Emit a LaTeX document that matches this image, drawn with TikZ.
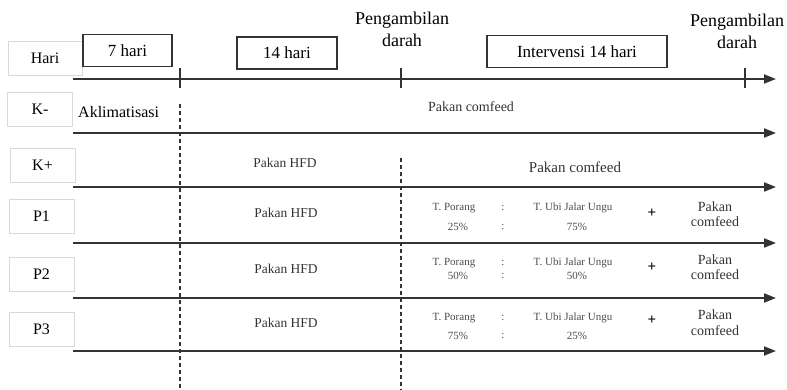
\documentclass[tikz,border=0pt]{standalone}
\usepackage{fontspec}
\setmainfont{Liberation Serif}
\usetikzlibrary{arrows.meta}
\begin{document}
\begin{tikzpicture}[x=1pt,y=-1pt,
  lbl/.style={draw=black!15, line width=0.8pt, minimum width=65pt, minimum height=34pt, font=\fontsize{16}{18}\selectfont, inner sep=0pt},
  topbox/.style={draw=black!80, line width=1.2pt, font=\fontsize{17}{19}\selectfont, inner sep=0pt, minimum height=32pt},
  tl/.style={draw=black!80, line width=2pt, -{Triangle[length=12pt,width=9pt]}},
  tickmark/.style={draw=black!80, line width=1.5pt},
  vdash/.style={draw=black!80, line width=2pt, dash pattern=on 4pt off 3pt},
  feed/.style={font=\fontsize{14}{16}\selectfont, text=black!80, inner sep=0pt},
  hfd/.style={font=\fontsize{13.5}{15}\selectfont, text=black!80, inner sep=0pt},
  tiny/.style={font=\fontsize{11}{12}\selectfont, text=black!70, inner sep=0pt},
  head/.style={font=\fontsize{18}{22}\selectfont, align=center, inner sep=0pt},
]
\useasboundingbox (0,0) rectangle (787,390);

% row labels
\node[lbl, minimum width=74pt] (hari) at (45,58.5) {Hari};
\node[lbl] (km) at (40,109) {K-};
\node[lbl] (kp) at (42.5,165.5) {K+};
\node[lbl] (p1) at (41.5,216.5) {P1};
\node[lbl] (p2) at (41.5,274.5) {P2};
\node[lbl] (p3) at (41.5,329.5) {P3};

% top boxes
\node[topbox, minimum width=89pt] (b7) at (127.5,50.5) {7 hari};
\node[topbox, minimum width=100pt] (b14) at (287,53) {14 hari};
\node[topbox, minimum width=180pt] (bint) at (577,51.5) {Intervensi 14 hari};

% blood sampling labels
\node[head] (pd1) at (402,29) {Pengambilan\\darah};
\node[head] (pd2) at (737,31) {Pengambilan\\darah};

% timelines
\foreach \n/\y in {t0/79,t1/133,t2/187,t3/243,t4/298,t5/351}{
  \coordinate (\n s) at (73,\y);
  \coordinate (\n e) at (776,\y);
  \draw[tl] (\n s) -- (\n e);
}

% ticks
\foreach \n/\x in {a/180,b/401,c/745}{
  \coordinate (tk\n1) at (\x,68);
  \coordinate (tk\n2) at (\x,88);
  \draw[tickmark] (tk\n1) -- (tk\n2);
}

% dashed verticals
\coordinate (d1s) at (180,104);
\coordinate (d1e) at (180,390);
\coordinate (d2s) at (401,158);
\coordinate (d2e) at (401,390);
\draw[vdash] (d1s) -- (d1e);
\draw[vdash] (d2s) -- (d2e);

% K- row
\node[font=\fontsize{16}{18}\selectfont, anchor=west, inner sep=0pt] (akl) at (78,112) {Aklimatisasi};
\node[feed] (kmfeed) at (471,107) {Pakan comfeed};

% K+ row
\node[hfd] (kphfd) at (285,163) {Pakan HFD};
\node[feed, font=\fontsize{15}{17}\selectfont] (kpfeed) at (575,167) {Pakan comfeed};

% P rows
\foreach \r/\yh/\yt/\yb/\yp/\ypa/\yc/\pa/\pb in {
  1/213/208/227/213/207/222/25\%/75\%,
  2/269/263/276/267/260/275/50\%/50\%,
  3/323/318/336/320/315/331/75\%/25\%}{
  \node[hfd] (hfd\r) at (286,\yh) {Pakan HFD};
  \node[tiny] (por\r) at (454,\yt) {T. Porang};
  \node[tiny] (c\r a) at (503,\yt) {:};
  \node[tiny] (ubi\r) at (573,\yt) {T. Ubi Jalar Ungu};
  \node[tiny] (pa\r) at (458,\yb) {\pa};
  \node[tiny] (c\r b) at (503,\yb) {:};
  \node[tiny] (pb\r) at (577,\yb) {\pb};
  \node[font=\fontsize{15}{16}\selectfont\bfseries, inner sep=0pt] (plus\r) at (652,\yp) {+};
  \node[feed] (pk\r) at (715,\ypa) {Pakan};
  \node[feed] (cf\r) at (715,\yc) {comfeed};
}
\end{tikzpicture}
\end{document}
